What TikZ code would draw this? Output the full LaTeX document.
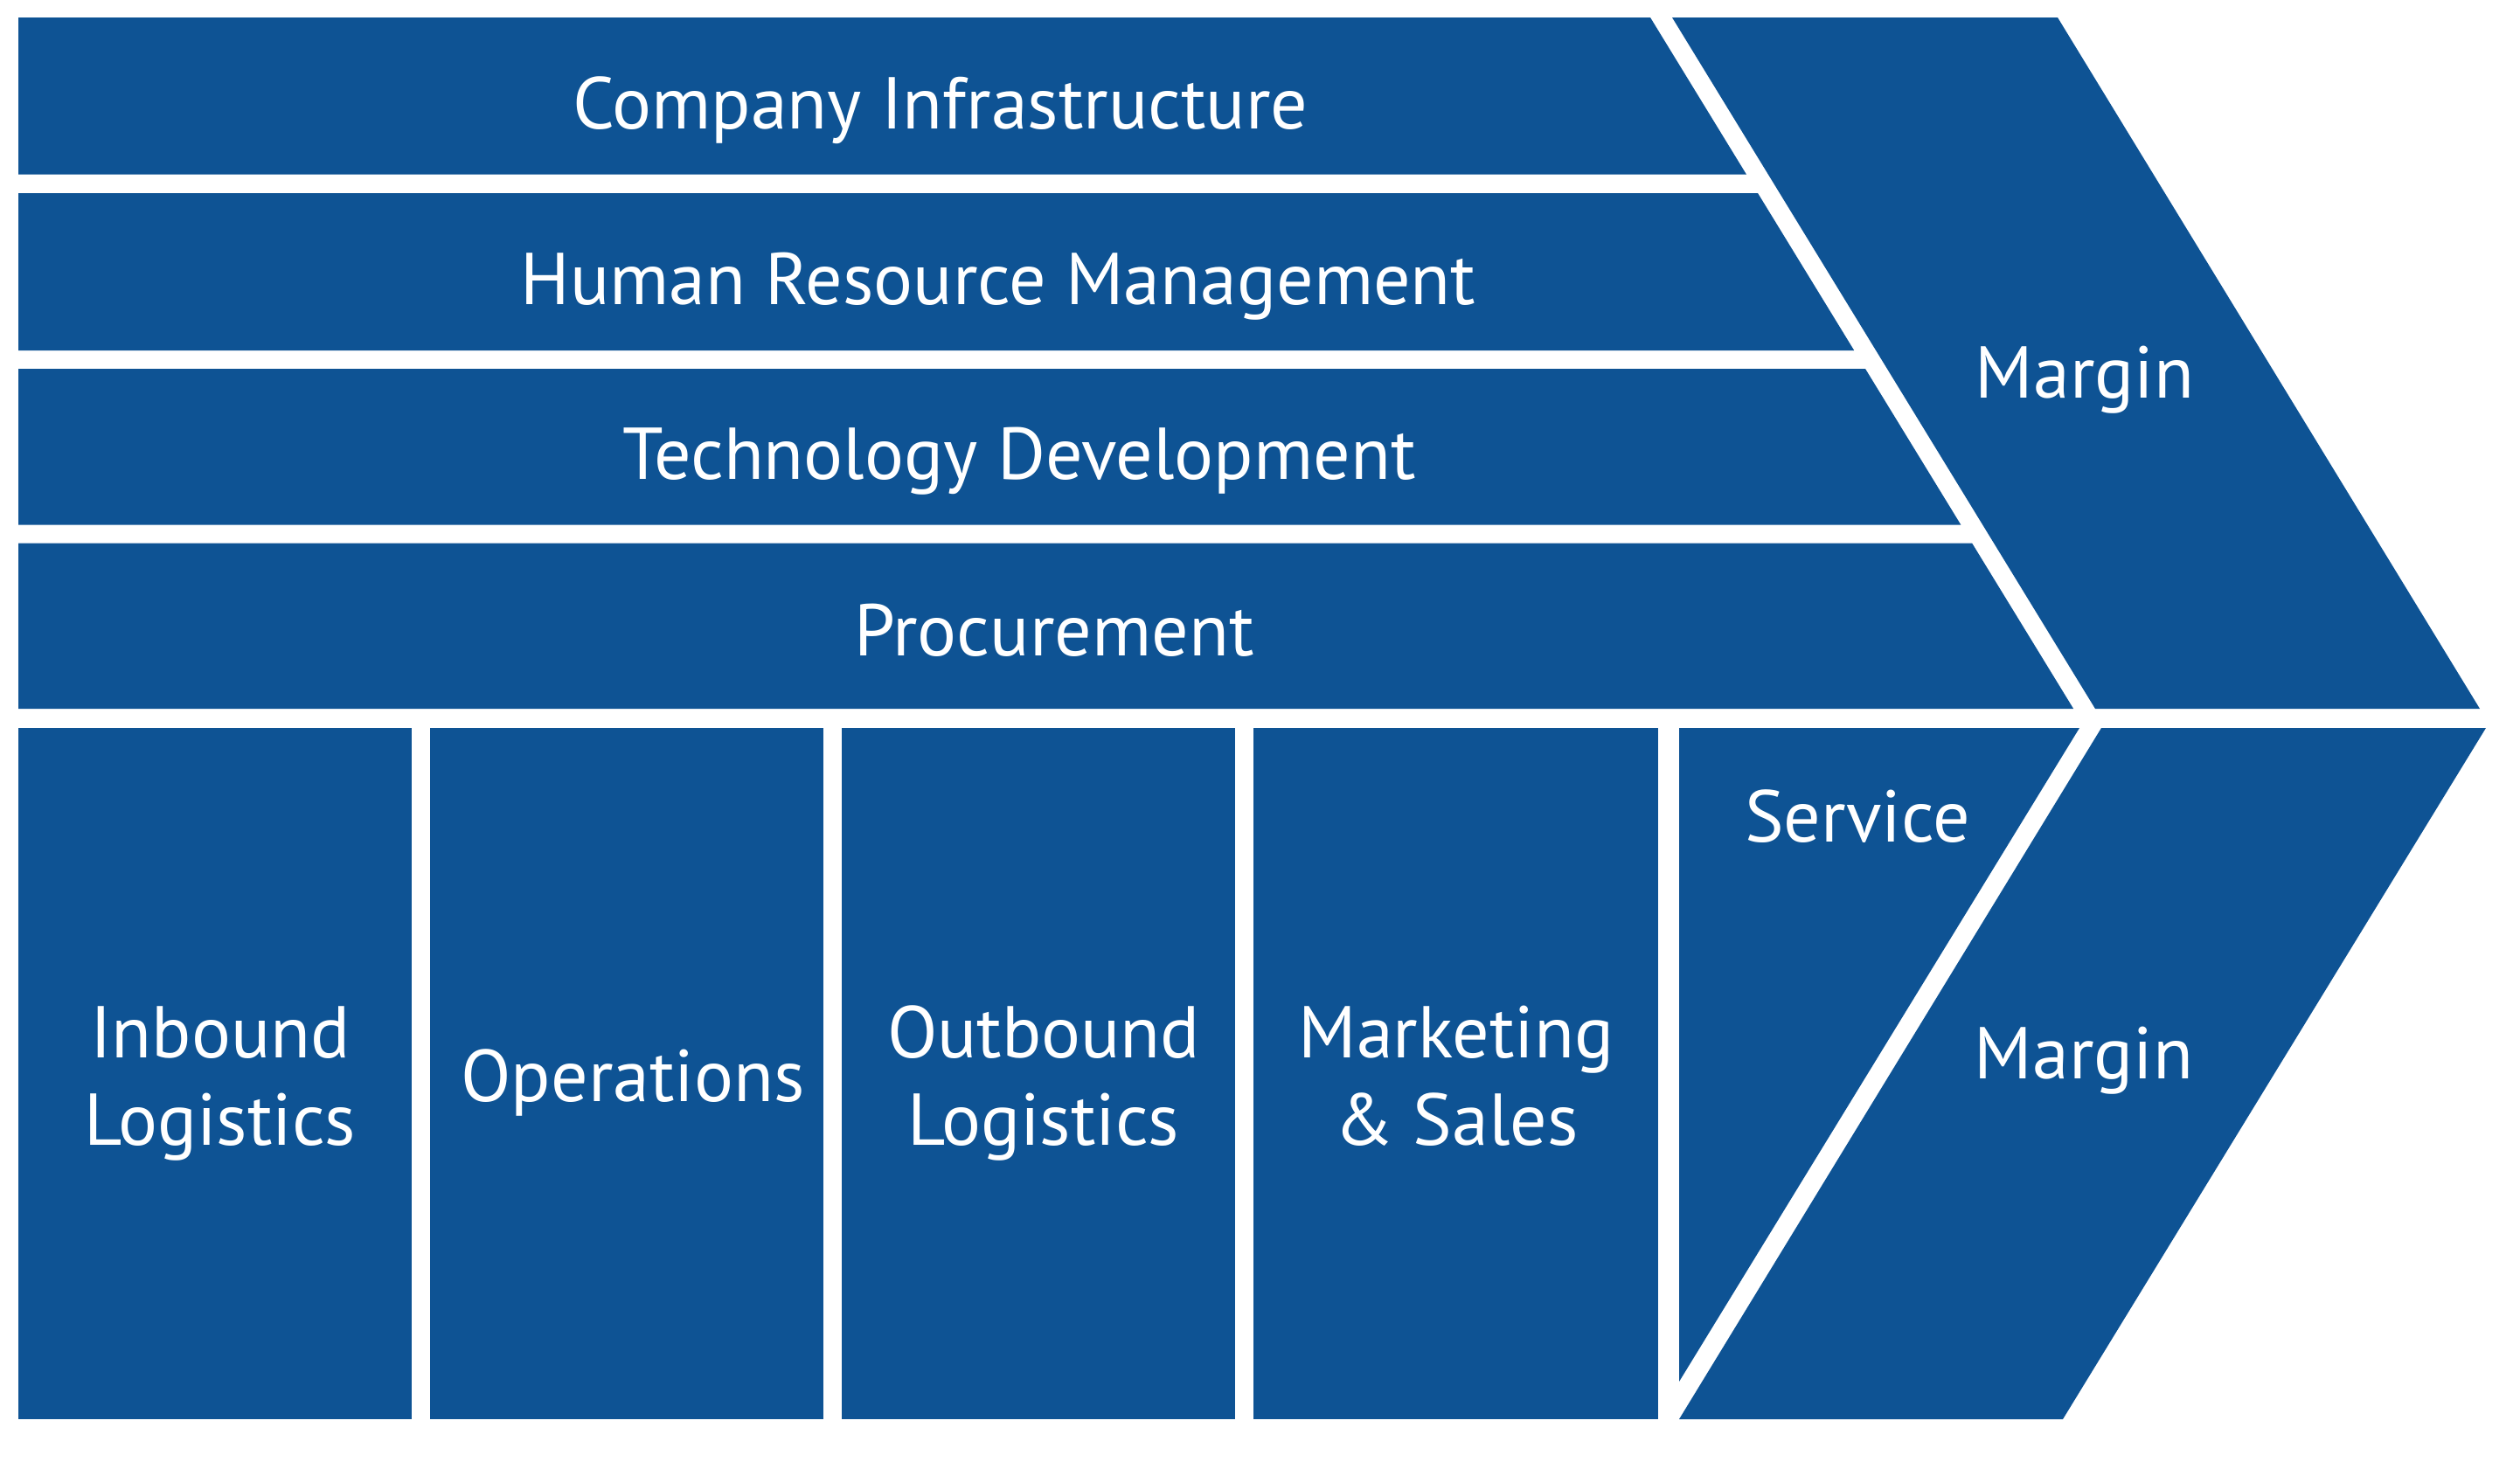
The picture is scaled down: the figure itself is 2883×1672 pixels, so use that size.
\documentclass[tikz,border=0pt]{standalone}
\usepackage{fontspec}
\setmainfont{PT Sans}
\definecolor{chainblue}{RGB}{14,83,148}

\begin{document}
\begin{tikzpicture}[x=0.1mm,y=-0.1mm,
    block/.style={fill=chainblue},
    txt/.style={text=white,inner sep=0pt,anchor=base,align=center,
                font=\fontsize{23.9pt}{28.2pt}\selectfont}]
\useasboundingbox (0,0) rectangle (2883,1672);

% support activities
\fill[block] (21,20)    -- (1888,20)    -- (1997.9,199.5) -- (21,199.5) -- cycle;
\fill[block] (21,221)   -- (2011,221)   -- (2121.2,401)   -- (21,401)   -- cycle;
\fill[block] (21,422)   -- (2134,422)   -- (2243.3,600.5) -- (21,600.5) -- cycle;
\fill[block] (21,621.7) -- (2256.2,621.7) -- (2372.1,811) -- (21,811)   -- cycle;
\fill[block] (1913,20) -- (2354,20) -- (2837,811) -- (2397,811) -- cycle;

% primary activities
\fill[block] (21,833)   rectangle (471,1624);
\fill[block] (492,833)  rectangle (942,1624);
\fill[block] (963,833)  rectangle (1413,1624);
\fill[block] (1434,833) rectangle (1897,1624);
\fill[block] (1921,833) -- (2379,833) -- (1921,1581) -- cycle;
\fill[block] (2404,833) -- (2844,833) -- (2360,1624) -- (1921,1624) -- cycle;

\node[txt] (infra)  at (1076,147.3) {Company Infrastructure};
\node[txt] (hrm)    at (1142,348.2) {Human Resource Management};
\node[txt] (tech)   at (1166,548.2) {Technology Development};
\node[txt] (proc)   at (1206,750.5) {Procurement};
\node[txt] (margA)  at (2385,455)   {Margin};

% base of a two-line label sits on its last line
\node[txt] (inlog)  at (252,1310)  {Inbound\\Logistics};
\node[txt] (ops)    at (724,1260.5) {Operations};
\node[txt] (outlog) at (1194,1310) {Outbound\\Logistics};
\node[txt] (mksal)  at (1666,1310) {Marketing\\\& Sales};
\node[txt] (serv)   at (2125,963)   {Service};
\node[txt] (margB)  at (2384,1234)  {Margin};
\end{tikzpicture}
\end{document}
